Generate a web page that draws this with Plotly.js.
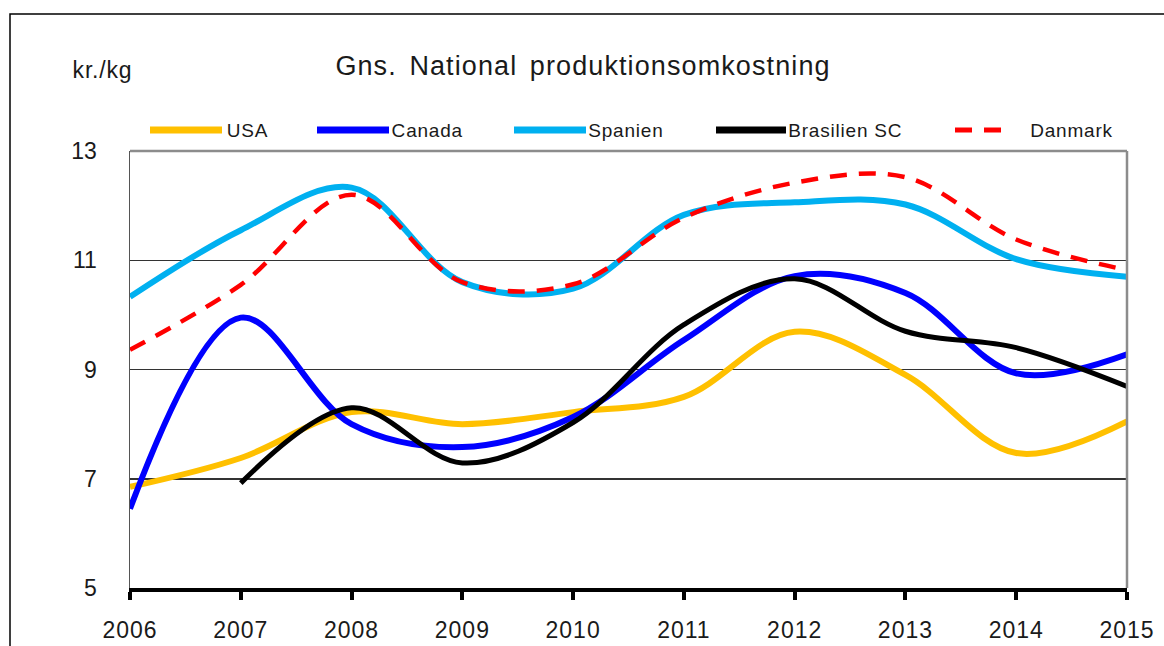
<!DOCTYPE html>
<html>
<head>
<meta charset="utf-8">
<script src="https://cdn.plot.ly/plotly-3.0.1.min.js"></script>
<style>
html,body{margin:0;padding:0;background:#fff;}
#chart{width:1164px;height:646px;}
#chart .gtitle{letter-spacing:1.1px;word-spacing:4px;}
#chart .xtick text{letter-spacing:1px;}
#chart .annotation-text{letter-spacing:0.8px;}
</style>
</head>
<body>
<div id="chart"></div>
<script>
// ---- data ----
const years = [2006, 2007, 2008, 2009, 2010, 2011, 2012, 2013, 2014, 2015];
const usa = [6.85, 7.38, 8.22, 8.0, 8.22, 8.5, 9.69, 8.9, 7.47, 8.05];
const canada = [6.45, 9.95, 8.0, 7.58, 8.13, 9.54, 10.71, 10.4, 8.93, 9.28];
const spanien = [10.33, 11.55, 12.33, 10.6, 10.48, 11.83, 12.06, 12.02, 11.02, 10.7];
const brasilien = [null, 6.92, 8.3, 7.29, 8.03, 9.82, 10.66, 9.7, 9.4, 8.69];
const danmark = [9.36, 10.55, 12.2, 10.6, 10.56, 11.78, 12.42, 12.52, 11.38, 10.82];
const seriesNames = ["USA", "Canada", "Spanien", "Brasilien SC", "Danmark"];
const yTicks = [5, 7, 9, 11, 13];
const titleText = "Gns. National produktionsomkostning";
const unitText = "kr./kg";

// ---- styling ----
const styles = [
  {color: "#FFC000", width: 6, dash: "solid"},
  {color: "#0000FF", width: 6, dash: "solid"},
  {color: "#00B0F0", width: 6, dash: "solid"},
  {color: "#000000", width: 5, dash: "solid"},
  {color: "#FF0000", width: 4.5, dash: "17px,12px"}
];
const values = [usa, canada, spanien, brasilien, danmark];

const W = 1164, H = 646;
const mL = 130, mR = 37, mT = 151, mB = 58;
const pw = W - mL - mR, ph = H - mT - mB;
const px2x = p => (p - mL) / pw;
const py2y = p => (H - mB - p) / ph;

const traces = values.map((v, i) => ({
  x: years, y: v, name: seriesNames[i], type: "scatter", mode: "lines",
  line: {shape: "spline", smoothing: 1, color: styles[i].color, width: styles[i].width, dash: styles[i].dash},
  connectgaps: false, showlegend: false, hoverinfo: "x+y+name"
}));

// legend layout (pixel positions of swatches and labels)
const legendPos = [
  {x0: 150, x1: 222, tx: 226},
  {x0: 317, x1: 389, tx: 392},
  {x0: 514, x1: 586, tx: 589},
  {x0: 716, x1: 786, tx: 791},
  {x0: 955, x1: 1011, tx: 1031}
];
const legendY = 130;
const font = "Liberation Sans, Arial, sans-serif";

const shapes = [
  // outer frame
  {type: "rect", xref: "paper", yref: "paper", x0: px2x(10), x1: px2x(1175), y0: py2y(660), y1: py2y(14),
   line: {color: "#000", width: 1.5}, layer: "below"},
  // plot border top and right
  {type: "line", xref: "paper", yref: "paper", x0: 0, x1: 1, y0: 1, y1: 1, line: {color: "#8c8c8c", width: 2.5}},
  {type: "line", xref: "paper", yref: "paper", x0: 1, x1: 1, y0: 0, y1: 1, line: {color: "#8c8c8c", width: 2.5}}
];
const annotations = [
  {text: unitText, xref: "paper", yref: "paper", x: px2x(73), y: py2y(70), xanchor: "left", yanchor: "middle",
   showarrow: false, font: {family: font, size: 23, color: "#1a1a1a"}}
];
legendPos.forEach((p, i) => {
  shapes.push({type: "line", xref: "paper", yref: "paper", x0: px2x(p.x0), x1: px2x(p.x1), y0: py2y(legendY), y1: py2y(legendY),
    line: {color: styles[i].color, width: i === 4 ? 5 : 7, dash: styles[i].dash}});
  annotations.push({text: seriesNames[i], xref: "paper", yref: "paper", x: px2x(p.tx), y: py2y(legendY), xanchor: "left", yanchor: "middle",
    showarrow: false, font: {family: font, size: 19, color: "#1a1a1a"}});
});

const layout = {
  width: W, height: H,
  margin: {l: mL, r: mR, t: mT, b: mB, pad: 0},
  paper_bgcolor: "#fff", plot_bgcolor: "#fff",
  showlegend: false,
  title: {text: titleText, xref: "paper", x: px2x(583), xanchor: "center", yref: "container", y: 1 - 66 / H, yanchor: "middle",
    font: {family: font, size: 27, color: "#1a1a1a"}},
  xaxis: {
    range: [2006, 2015], tickvals: years, ticktext: years.map(String),
    showgrid: false, zeroline: false,
    showline: true, linecolor: "#000", linewidth: 3.5,
    ticks: "outside", ticklen: 8, tickwidth: 4, tickcolor: "#000",
    ticklabelstandoff: 11,
    tickfont: {family: font, size: 23, color: "#1a1a1a"}
  },
  yaxis: {
    range: [5, 13], tickvals: yTicks, ticktext: yTicks.map(String),
    showgrid: true, gridcolor: "#333", gridwidth: 1.5, zeroline: false,
    showline: true, linecolor: "#555", linewidth: 1.5,
    ticks: "", ticklabelstandoff: 27,
    tickfont: {family: font, size: 23, color: "#1a1a1a"}
  },
  shapes: shapes,
  annotations: annotations
};

Plotly.newPlot("chart", traces, layout, {displayModeBar: false, staticPlot: true});
</script>
</body>
</html>
